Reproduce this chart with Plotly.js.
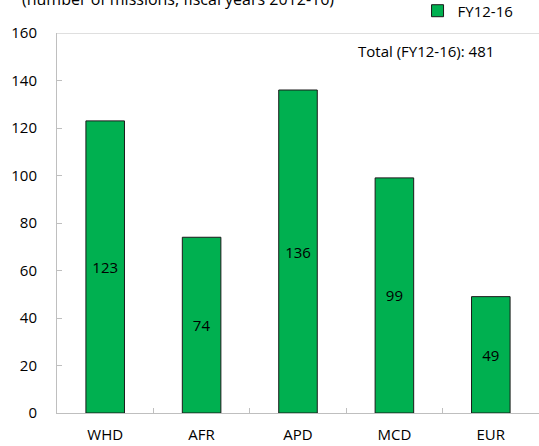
<!DOCTYPE html>
<html>
<head>
<meta charset="utf-8">
<script src="https://cdn.plot.ly/plotly-3.0.1.min.js"></script>
<style>html,body{margin:0;padding:0;background:#fff;}</style>
</head>
<body>
<div id="chart" style="width:539px;height:446px;"></div>
<script>
const categories = ["WHD", "AFR", "APD", "MCD", "EUR"];
const missions = [123, 74, 136, 99, 49];
const seriesName = "FY12-16";
const yTicks = [0, 20, 40, 60, 80, 100, 120, 140, 160];
const subtitle = "(number of missions, fiscal years 2012-16)";
const totalLabel = "Total (FY12-16): 481";

const FONT = "Open Sans, Noto Sans, sans-serif";
const FS = 15;

const trace = {
  type: "bar",
  x: categories,
  y: missions,
  name: seriesName,
  text: missions.map(String),
  textposition: "inside",
  insidetextanchor: "middle",
  textangle: 0,
  textfont: {family: FONT, size: FS, color: "#000"},
  marker: {color: "#00B050", line: {color: "#1a1a1a", width: 1}},
  showlegend: true
};

const layout = {
  width: 539,
  height: 446,
  margin: {l: 57, r: 0, t: 33, b: 33, pad: 0, autoexpand: false},
  paper_bgcolor: "#fff",
  plot_bgcolor: "#fff",
  font: {family: FONT, size: FS, color: "#000"},
  bargap: 0.6,
  showlegend: true,
  legend: {
    x: 0.748, y: 1.058, xanchor: "left", yanchor: "middle",
    orientation: "h",
    font: {family: FONT, size: FS, color: "#000"},
    bgcolor: "rgba(0,0,0,0)",
    itemwidth: 30
  },
  xaxis: {
    type: "category",
    showline: true, linecolor: "#BFBFBF", linewidth: 1,
    ticks: "inside", ticklen: 5, tickcolor: "#BFBFBF",
    tickson: "boundaries",
    showgrid: false, zeroline: false,
    tickfont: {family: FONT, size: FS, color: "#000"},
    ticklabelstandoff: 8,
    fixedrange: true
  },
  yaxis: {
    range: [0, 160],
    tickvals: yTicks,
    showline: true, linecolor: "#BFBFBF", linewidth: 1,
    ticks: "inside", ticklen: 5, tickcolor: "#BFBFBF",
    showgrid: false, zeroline: false,
    tickfont: {family: FONT, size: FS, color: "#000"},
    ticklabelstandoff: 16,
    fixedrange: true
  },
  shapes: [{
    type: "line", xref: "paper", yref: "y",
    x0: 0, x1: 1, y0: 160, y1: 160,
    line: {color: "#BFBFBF", width: 1}
  }],
  annotations: [
    {
      text: subtitle, xref: "paper", yref: "paper",
      x: -0.077, y: 1.0895, xanchor: "left", yanchor: "middle",
      showarrow: false, font: {family: FONT, size: 16, color: "#000"}
    },
    {
      text: totalLabel, xref: "paper", yref: "paper",
      x: 0.91, y: 0.953, xanchor: "right", yanchor: "middle",
      showarrow: false, font: {family: FONT, size: FS, color: "#000"}
    }
  ]
};

Plotly.newPlot("chart", [trace], layout, {displayModeBar: false, staticPlot: true});
</script>
</body>
</html>
